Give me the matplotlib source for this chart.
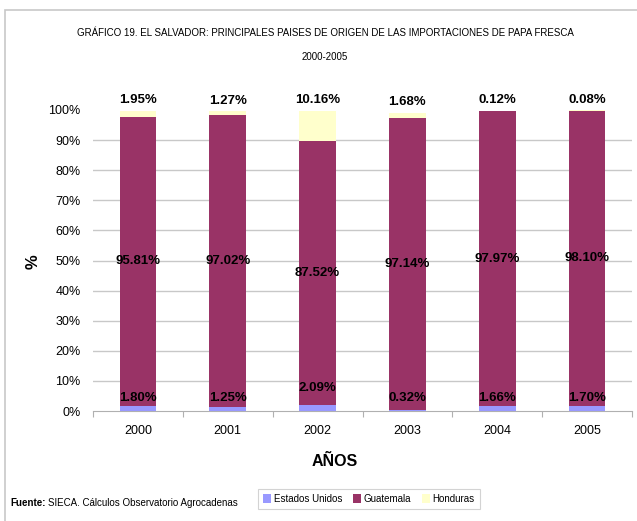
import numpy as np
import matplotlib.pyplot as plt
from matplotlib.patches import Rectangle

years = ["2000", "2001", "2002", "2003", "2004", "2005"]
estados_unidos = [1.80, 1.25, 2.09, 0.32, 1.66, 1.70]
guatemala = [95.81, 97.02, 87.52, 97.14, 97.97, 98.10]
honduras = [1.95, 1.27, 10.16, 1.68, 0.12, 0.08]

plt.rcParams["font.family"] = ["Liberation Sans", "DejaVu Sans"]

col_eu = "#9999FF"
col_gt = "#993366"
col_hn = "#FFFFCC"

fig = plt.figure(figsize=(6.37, 5.21), dpi=100)
# outer chart frame (runs off the right and bottom edges)
fig.patches.append(Rectangle((5 / 637, -0.1), 1.2, 1.1 - 10 / 521, transform=fig.transFigure,
                             fill=False, edgecolor="#c8c8c8", linewidth=1.2))

ax = fig.add_axes([93 / 637, 110 / 521, 539 / 637, 301 / 521])
x = np.arange(len(years))
w = 0.41
eu = np.array(estados_unidos)
gt = np.array(guatemala)
hn = np.array(honduras)

ax.bar(x, eu, w, color=col_eu, label="Estados Unidos", zorder=3)
ax.bar(x, gt, w, bottom=eu, color=col_gt, label="Guatemala", zorder=3)
ax.bar(x, hn, w, bottom=eu + gt, color=col_hn, label="Honduras", zorder=3)

# data labels
eu_lab_y = [4.2, 4.2, 7.6, 4.2, 4.2, 4.2]
for i in range(len(years)):
    ax.text(x[i], eu_lab_y[i], "%.2f%%" % eu[i], ha="center", va="center",
            fontsize=9.5, fontweight="bold", zorder=4)
    ax.text(x[i], eu[i] + gt[i] / 2, "%.2f%%" % gt[i], ha="center", va="center",
            fontsize=9.5, fontweight="bold", zorder=4)
    ax.text(x[i], eu[i] + gt[i] + hn[i] + 3.6, "%.2f%%" % hn[i], ha="center", va="center",
            fontsize=9.5, fontweight="bold", zorder=4)

ax.set_xlim(-0.5, len(years) - 0.5)
ax.set_ylim(0, 100)
for g in range(10, 100, 10):
    ax.axhline(g, color="#c8c8c8", linewidth=1, zorder=1)

ax.set_yticks(np.arange(0, 101, 10))
ax.set_yticklabels(["%d%%" % v for v in range(0, 101, 10)], fontsize=9)
ax.tick_params(axis="y", length=0, pad=9)

ax.set_xticks(np.arange(-0.5, len(years), 1))
ax.set_xticklabels([])
ax.tick_params(axis="x", which="major", length=4, color="#b0b0b0", direction="out")
ax.set_xticks(x, minor=True)
ax.set_xticklabels(years, minor=True, fontsize=9)
ax.tick_params(axis="x", which="minor", length=0, pad=10)

for s in ["top", "right", "left"]:
    ax.spines[s].set_visible(False)
ax.spines["bottom"].set_color("#b0b0b0")

fig.text(33 / 637, 1 - 262 / 521, "%", rotation=90, ha="center", va="center",
         fontsize=12, fontweight="bold")
fig.text(335 / 637, 1 - 461 / 521, "AÑOS", ha="center", va="center",
         fontsize=11.5, fontweight="bold")

fig.text(325 / 637, 1 - 33 / 521, "GRÁFICO 19. EL SALVADOR: PRINCIPALES PAISES DE ORIGEN DE LAS IMPORTACIONES DE PAPA FRESCA",
         ha="center", va="center", fontsize=7)
fig.text(325 / 637, 1 - 57 / 521, "2000-2005", ha="center", va="center", fontsize=7)

t1 = fig.text(10 / 637, 1 - 503 / 521, "Fuente:", ha="left", va="center", fontsize=7, fontweight="bold")
fig.canvas.draw()
bb = t1.get_window_extent()
fig.text((bb.x1 + 3) / 637, 1 - 503 / 521, "SIECA. Cálculos Observatorio Agrocadenas", ha="left",
         va="center", fontsize=7)

leg = fig.legend(loc="center", bbox_to_anchor=(369 / 637, 1 - 499 / 521), ncol=3, fontsize=7,
                 frameon=True, fancybox=False, edgecolor="#c8c8c8", handlelength=0.8,
                 handleheight=1.1, handletextpad=0.3, columnspacing=1.1, borderpad=0.5)
leg.get_frame().set_linewidth(0.8)

fig.savefig("out.png", dpi=100)
